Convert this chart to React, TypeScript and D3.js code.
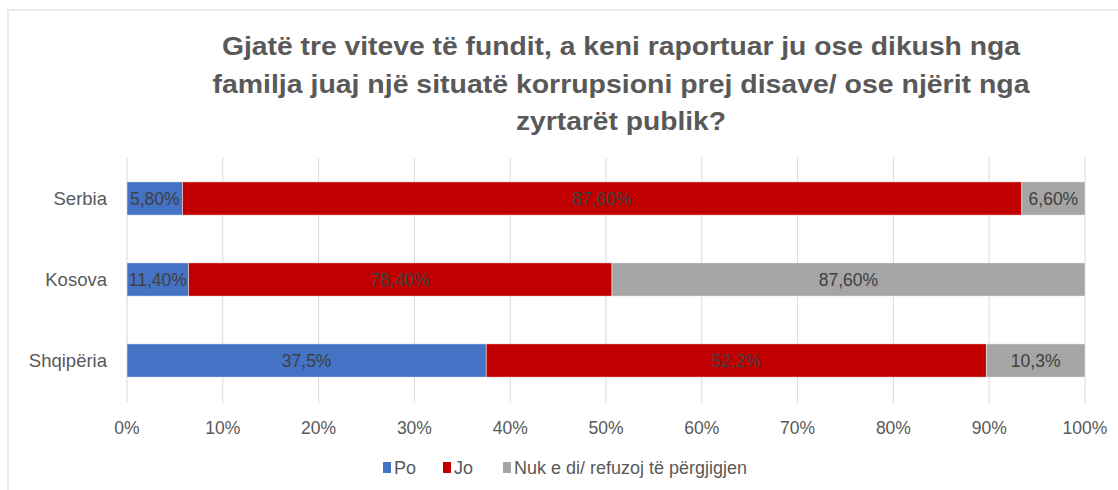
import React from "react";
import * as d3 from "d3";

const categories = ["Serbia", "Kosova", "Shqipëria"];
const seriesNames = ["Po", "Jo", "Nuk e di/ refuzoj të përgjigjen"];
const poValues = [5.8, 11.4, 37.5];
const joValues = [87.6, 78.4, 52.2];
const nukValues = [6.6, 87.6, 10.3];
const poLabels = ["5,80%", "11,40%", "37,5%"];
const joLabels = ["87,60%", "78,40%", "52,2%"];
const nukLabels = ["6,60%", "87,60%", "10,3%"];
const tickValues = [0, 0.1, 0.2, 0.3, 0.4, 0.5, 0.6, 0.7, 0.8, 0.9, 1];
const titleLines = [
  "Gjatë tre viteve të fundit, a keni raportuar ju ose dikush nga",
  "familja juaj një situatë korrupsioni prej disave/ ose njërit nga",
  "zyrtarët publik?",
];
const titleWidths = [798, 817, 210];
const colors = ["#4472C4", "#C00000", "#A5A5A5"];

const W = 1118;
const H = 490;
const FONT = "'Liberation Sans', Arial, sans-serif";

export default function App() {
  const keys = ["po", "jo", "nuk"];
  const rows = categories.map((c, i) => ({
    cat: c,
    po: poValues[i],
    jo: joValues[i],
    nuk: nukValues[i],
  }));
  const labels: Record<string, string[]> = { po: poLabels, jo: joLabels, nuk: nukLabels };
  const stack = d3.stack<any>().keys(keys).offset(d3.stackOffsetExpand);
  const stacked = stack(rows);

  const x = d3.scaleLinear().domain([0, 1]).range([127, 1085]);
  const y = d3
    .scaleBand<string>()
    .domain(categories)
    .range([158, 401])
    .paddingInner(0.59)
    .paddingOuter(0.295);

  const legendX = [383, 443, 503];

  return (
    <svg width={W} height={H} style={{ display: "block", position: "absolute", left: 0, top: 0 }}>
      <rect x={0} y={0} width={W} height={H} fill="#fff" />
      <rect x={8} y={10} width={W + 20} height={H + 20} fill="#fff" stroke="#D9D9D9" strokeWidth={1} />
      {titleLines.map((t, i) => (
        <text
          key={i}
          x={621}
          y={46 + i * 37.5}
          textAnchor="middle"
          dominantBaseline="central"
          fontFamily={FONT}
          fontWeight="bold"
          fontSize={25}
          fill="#595959"
          textLength={titleWidths[i]}
          lengthAdjust="spacingAndGlyphs"
        >
          {t}
        </text>
      ))}
      {tickValues.map((t, i) => (
        <g key={i}>
          <line x1={x(t)} x2={x(t)} y1={158} y2={403} stroke="#D9D9D9" strokeWidth={1} />
          <text
            x={x(t)}
            y={428}
            textAnchor="middle"
            dominantBaseline="central"
            fontFamily={FONT}
            fontSize={17.5}
            fill="#595959"
          >
            {d3.format(".0%")(t)}
          </text>
        </g>
      ))}
      {categories.map((c) => (
        <text
          key={c}
          x={107}
          y={(y(c) as number) + y.bandwidth() / 2}
          textAnchor="end"
          dominantBaseline="central"
          fontFamily={FONT}
          fontSize={18.5}
          fill="#595959"
        >
          {c}
        </text>
      ))}
      {stacked.map((s, si) => (
        <g key={s.key}>
          {s.map((d, di) => (
            <rect
              key={di}
              x={x(d[0])}
              y={y(categories[di]) as number}
              width={x(d[1]) - x(d[0])}
              height={y.bandwidth()}
              fill={colors[si]}
              stroke="#fff"
              strokeOpacity={0.6}
              strokeWidth={0.75}
            />
          ))}
          {s.map((d, di) => (
            <text
              key={"t" + di}
              x={(x(d[0]) + x(d[1])) / 2}
              y={(y(categories[di]) as number) + y.bandwidth() / 2}
              textAnchor="middle"
              dominantBaseline="central"
              fontFamily={FONT}
              fontSize={17.5}
              fill="#404040"
            >
              {labels[s.key][di]}
            </text>
          ))}
        </g>
      ))}
      {seriesNames.map((name, i) => (
        <g key={i}>
          <rect x={legendX[i]} y={462} width={8} height={11} fill={colors[i]} />
          <text
            x={legendX[i] + 11}
            y={468}
            dominantBaseline="central"
            fontFamily={FONT}
            fontSize={18}
            fill="#595959"
          >
            {name}
          </text>
        </g>
      ))}
    </svg>
  );
}
